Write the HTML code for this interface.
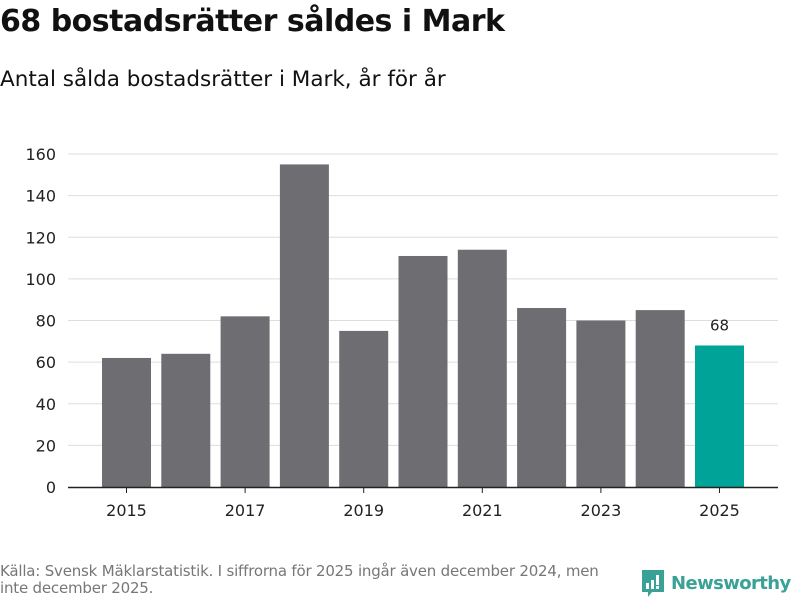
<!DOCTYPE html>
<html><head><meta charset="utf-8"><style>
body{margin:0;width:800px;height:600px;background:#fff;font-family:"DejaVu Sans","Liberation Sans",sans-serif;overflow:hidden;position:relative;color:#111}
#title{position:absolute;left:0;top:4px;font-size:30px;font-weight:bold;letter-spacing:-0.5px}
#sub{position:absolute;left:0;top:67px;font-size:21.5px}
#src{position:absolute;left:0;top:563px;font-size:15px;color:#777;line-height:17px;width:625px;letter-spacing:-0.2px}
#logo{position:absolute;left:640px;top:568px;display:flex;align-items:center;gap:5px;color:#3aa196;font-size:18px;font-weight:bold;letter-spacing:-0.6px}
</style></head><body>
<div id="title">68 bostadsrätter såldes i Mark</div>
<div id="sub">Antal sålda bostadsrätter i Mark, år för år</div>
<svg id="chart" width="800" height="600" style="position:absolute;left:0;top:0"></svg>
<div id="src">Källa: Svensk Mäklarstatistik. I siffrorna för 2025 ingår även december 2024, men inte december 2025.</div>
<div id="logo"><svg width="26" height="30" viewBox="0 0 26 30"><path d="M2 2h22v22h-12l-4 5v-5h-6z" fill="#3aa196"/><rect x="6" y="15" width="3" height="6" fill="#fff"/><rect x="11" y="12" width="3" height="9" fill="#fff"/><rect x="16" y="7" width="3" height="10" fill="#fff"/><rect x="16" y="18" width="3" height="3" fill="#fff"/></svg><span>Newsworthy</span></div>
<script>
const years=[2015,2016,2017,2018,2019,2020,2021,2022,2023,2024,2025];
const values=[62,64,82,155,75,111,114,86,80,85,68];
const yTicks=[0,20,40,60,80,100,120,140,160];
const xLabels=[2015,2017,2019,2021,2023,2025];
const NS="http://www.w3.org/2000/svg";
const svg=document.getElementById('chart');
const y0=487,yPer=(487-154)/160,x0=126.5,xStep=59.3,bw=49;
const ys=v=>y0-v*yPer, xs=yr=>x0+(yr-2015)*xStep;
function mk(t,a){const e=document.createElementNS(NS,t);for(const k in a)e.setAttribute(k,a[k]);svg.appendChild(e);return e;}
yTicks.forEach(t=>{
  if(t>0){const l=mk('line',{x1:68,x2:778,y1:ys(t),y2:ys(t),stroke:'#ddd','stroke-width':1});
  
  }
  const tx=mk('text',{x:56,y:ys(t)+6,'text-anchor':'end','font-size':16,fill:'#222'});tx.textContent=t;
  
  
});
years.forEach((yr,i)=>{
  const v=values[i];
  const r=mk('rect',{x:xs(yr)-bw/2,y:ys(v),width:bw,height:y0-ys(v),fill:i===years.length-1?'#00a398':'#6e6d72'});
  
  
  if(i===years.length-1){const t=mk('text',{x:xs(yr),y:ys(v)-15,'text-anchor':'middle','font-size':15,fill:'#222'});t.textContent=v;
  
  }
});
const ax=mk('line',{x1:68,x2:778,y1:y0+0.5,y2:y0+0.5,stroke:'#222','stroke-width':1.5});


xLabels.forEach(yr=>{
  const tk=mk('line',{x1:xs(yr),x2:xs(yr),y1:y0,y2:y0+6,stroke:'#222'});
  
  
  const t=mk('text',{x:xs(yr),y:y0+29,'text-anchor':'middle','font-size':16,fill:'#222'});t.textContent=yr;
  
  
});
</script>
</body></html>
